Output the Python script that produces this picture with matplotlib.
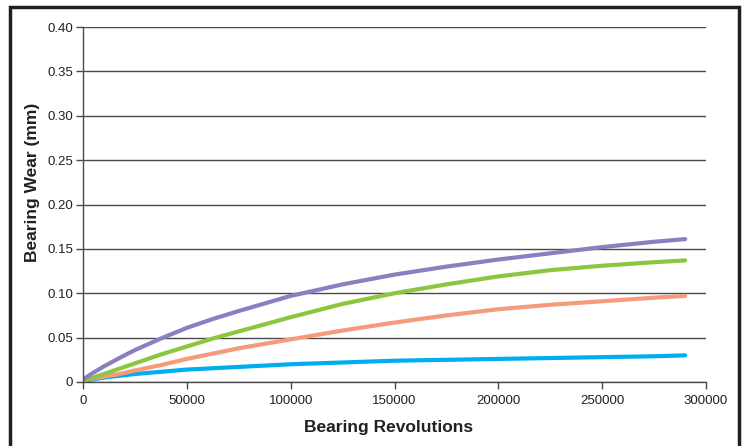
import matplotlib
matplotlib.use("Agg")
import matplotlib.pyplot as plt
from matplotlib.patches import Rectangle
from matplotlib.ticker import FuncFormatter

plt.rcParams['font.family'] = ['Liberation Sans', 'DejaVu Sans']

revs = [0, 5000, 10000, 17500, 25000, 37500, 50000, 62500, 75000, 100000,
        125000, 150000, 175000, 200000, 225000, 250000, 275000, 290000]
purple = [0.003, 0.0105, 0.0175, 0.027, 0.036, 0.049, 0.061, 0.071, 0.080, 0.097,
          0.110, 0.121, 0.130, 0.138, 0.145, 0.152, 0.158, 0.161]
green = [0.002, 0.005, 0.009, 0.015, 0.021, 0.031, 0.040, 0.049, 0.057, 0.073,
         0.088, 0.100, 0.110, 0.119, 0.126, 0.131, 0.135, 0.137]
orange = [0.002, 0.004, 0.006, 0.009, 0.013, 0.019, 0.026, 0.032, 0.038, 0.048,
          0.058, 0.067, 0.075, 0.082, 0.087, 0.091, 0.095, 0.097]
blue = [0.001, 0.003, 0.005, 0.007, 0.009, 0.0115, 0.014, 0.0155, 0.017, 0.020,
        0.022, 0.024, 0.025, 0.026, 0.027, 0.028, 0.029, 0.030]

yticks = [0, 0.05, 0.10, 0.15, 0.20, 0.25, 0.30, 0.35, 0.40]
xticks = [0, 50000, 100000, 150000, 200000, 250000, 300000]

fig = plt.figure(figsize=(7.46, 4.46), dpi=100)
fig.patches.append(Rectangle((10 / 746, -0.1), 729 / 746, 1.1 - 7 / 446,
                             transform=fig.transFigure, fill=False,
                             edgecolor='#231f20', linewidth=2.5))
ax = fig.add_axes([83 / 746, 64 / 446, 623 / 746, 355 / 446])

for y, c in [(blue, '#00aeef'), (orange, '#f79a7c'), (green, '#8cc63f'), (purple, '#8a7fc0')]:
    ax.plot(revs, y, color=c, linewidth=3, solid_capstyle='round', solid_joinstyle='round')

ax.set_xlim(0, 300000)
ax.set_ylim(0, 0.40)
ax.set_xticks(xticks)
ax.set_yticks(yticks)
ax.xaxis.set_major_formatter(FuncFormatter(lambda v, p: '%d' % v))
ax.yaxis.set_major_formatter(FuncFormatter(lambda v, p: '0' if v == 0 else '%.2f' % v))
ax.grid(axis='y', color='#4a4a4a', linewidth=1)
ax.set_axisbelow(True)
for s in ['top', 'right']:
    ax.spines[s].set_visible(False)
for s in ['left', 'bottom']:
    ax.spines[s].set_color('#4a4a4a')
    ax.spines[s].set_linewidth(1)
ax.tick_params(colors='#4a4a4a', labelcolor='#231f20', labelsize=9.5, length=5, width=1)
ax.tick_params(axis='y', pad=2)
ax.tick_params(axis='x', pad=4)

ax.set_xlabel('Bearing Revolutions', fontsize=12.5, fontweight='bold', color='#231f20')
ax.set_ylabel('Bearing Wear (mm)', fontsize=12.5, fontweight='bold', color='#231f20')
ax.xaxis.set_label_coords(0.490, -0.107)
ax.yaxis.set_label_coords(-0.069, 0.563)

fig.savefig('out.png', dpi=100)
